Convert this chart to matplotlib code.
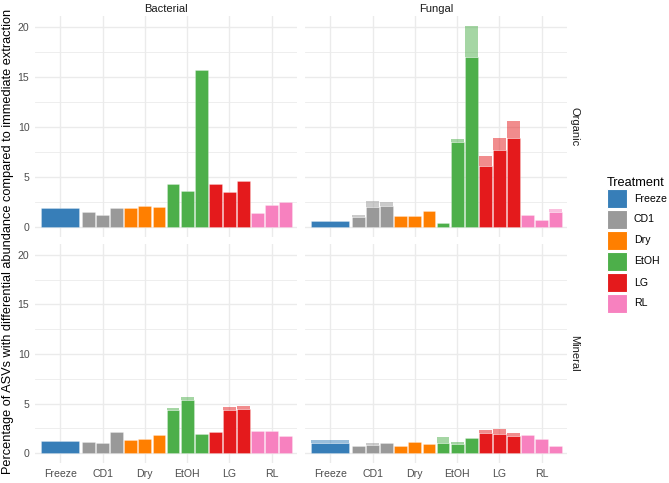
import numpy as np
import matplotlib
matplotlib.use("Agg")
import matplotlib.pyplot as plt
from matplotlib.patches import Rectangle

plt.rcParams['font.family'] = ['Liberation Sans', 'DejaVu Sans']

treatments = ['Freeze', 'CD1', 'Dry', 'EtOH', 'LG', 'RL']
colors = ['#377EB8', '#999999', '#FF7F00', '#4DAF4A', '#E41A1C', '#F781BF']
# Freeze has one bar, the others three (one per time point)
n_bars = [1, 3, 3, 3, 3, 3]

# solid part and total height of each bar (light top = total - solid)
bact_org_solid = [1.9, 1.45, 1.15, 1.85, 1.85, 2.1, 1.95, 4.3, 3.6, 15.7, 4.25, 3.5, 4.6, 1.4, 2.2, 2.5]
bact_org_total = [1.9, 1.45, 1.15, 1.85, 1.85, 2.1, 1.95, 4.3, 3.6, 15.7, 4.25, 3.5, 4.6, 1.4, 2.2, 2.5]
fung_org_solid = [0.57, 0.97, 1.95, 2.05, 1.1, 1.1, 1.57, 0.37, 8.5, 17.0, 6.1, 7.7, 8.85, 1.17, 0.7, 1.47]
fung_org_total = [0.57, 1.17, 2.57, 2.5, 1.1, 1.1, 1.57, 0.37, 8.75, 20.1, 7.1, 8.85, 10.6, 1.24, 0.7, 1.77]
bact_min_solid = [1.2, 1.1, 1.0, 2.08, 1.27, 1.44, 1.81, 4.36, 5.39, 1.94, 2.11, 4.32, 4.46, 2.24, 2.24, 1.74]
bact_min_total = [1.25, 1.1, 1.0, 2.08, 1.27, 1.44, 1.81, 4.52, 5.66, 1.94, 2.11, 4.66, 4.79, 2.24, 2.24, 1.74]
fung_min_solid = [1.05, 0.74, 0.8, 0.97, 0.7, 1.07, 0.94, 1.0, 0.94, 1.51, 2.01, 1.91, 1.74, 1.84, 1.44, 0.67]
fung_min_total = [1.27, 0.74, 1.04, 0.97, 0.7, 1.07, 0.94, 1.64, 1.14, 1.51, 2.34, 2.45, 2.01, 1.84, 1.44, 0.67]

panels = [
    ('Bacterial', 'Organic', bact_org_solid, bact_org_total),
    ('Fungal', 'Organic', fung_org_solid, fung_org_total),
    ('Bacterial', 'Mineral', bact_min_solid, bact_min_total),
    ('Fungal', 'Mineral', fung_min_solid, fung_min_total),
]

W, H = 669, 483
fig = plt.figure(figsize=(W / 100, H / 100), dpi=100)

# panel rects in pixels
lefts = [35, 305]
rights = [297, 567]
tops = [16, 244]
bottoms = [237, 463]

grid_col = '#EBEBEB'
text_col = '#4D4D4D'

for k, (org, hor, solid, total) in enumerate(panels):
    col, row = k % 2, k // 2
    rect = [lefts[col] / W, 1 - bottoms[row] / H,
            (rights[col] - lefts[col]) / W, (bottoms[row] - tops[row]) / H]
    ax = fig.add_axes(rect)
    for s in ax.spines.values():
        s.set_visible(False)
    ax.set_xlim(0.4, 6.6)
    ax.set_ylim(-1.005, 21.1)
    ax.set_yticks([0, 5, 10, 15, 20])
    ax.set_yticks([2.5, 7.5, 12.5, 17.5], minor=True)
    ax.set_xticks(range(1, 7))
    ax.grid(True, which='major', color=grid_col, linewidth=1.0)
    ax.grid(True, which='minor', axis='y', color=grid_col, linewidth=0.6)
    ax.set_axisbelow(True)
    ax.tick_params(which='both', length=0, labelsize=7.6, labelcolor=text_col, pad=4)
    if row == 1:
        ax.set_xticklabels(treatments)
    else:
        ax.set_xticklabels([])
    if col == 1:
        ax.set_yticklabels([])

    j = 0
    for i, (t, c, nb) in enumerate(zip(treatments, colors, n_bars)):
        if nb == 1:
            step, bw = 0.9, 0.9
        else:
            step, bw = 1.0 / nb, 1.0 / nb - 0.03
        for b in range(nb):
            x = i + 1 + step * (b - (nb - 1) / 2)
            s_val, t_val = solid[j], total[j]
            ax.bar(x, s_val, width=bw, color=c, edgecolor=(1, 1, 1, 0.35),
                   linewidth=0.5, zorder=3)
            if t_val > s_val:
                ax.bar(x, t_val - s_val, bottom=s_val, width=bw,
                       color=c, alpha=0.5, edgecolor='none', zorder=3)
            j += 1

    if row == 0:
        ax.set_title(org, fontsize=8, color='#1A1A1A', pad=3)
    if col == 1:
        ax.text(1.008, 0.5, hor, transform=ax.transAxes, rotation=-90,
                ha='left', va='center', fontsize=8, color='#1A1A1A')

fig.text(8 / W, 0.5, 'Percentage of ASVs with differential abundance compared to immediate extraction',
         rotation=90, ha='center', va='center', fontsize=9.2, color='black')

# legend
fig.text(607 / W, 1 - 183 / H, 'Treatment', ha='left', va='center', fontsize=9.2, color='black')
for i, (t, c) in enumerate(zip(treatments, colors)):
    y_top = 189 + 21 * i
    fig.patches.append(Rectangle((607 / W, 1 - (y_top + 19) / H), 20 / W, 19 / H,
                                 transform=fig.transFigure, facecolor=c,
                                 edgecolor='white', linewidth=0.8))
    fig.text(634 / W, 1 - (y_top + 9.5) / H, t, ha='left', va='center',
             fontsize=7.6, color='black')

fig.savefig('out.png', dpi=100)
